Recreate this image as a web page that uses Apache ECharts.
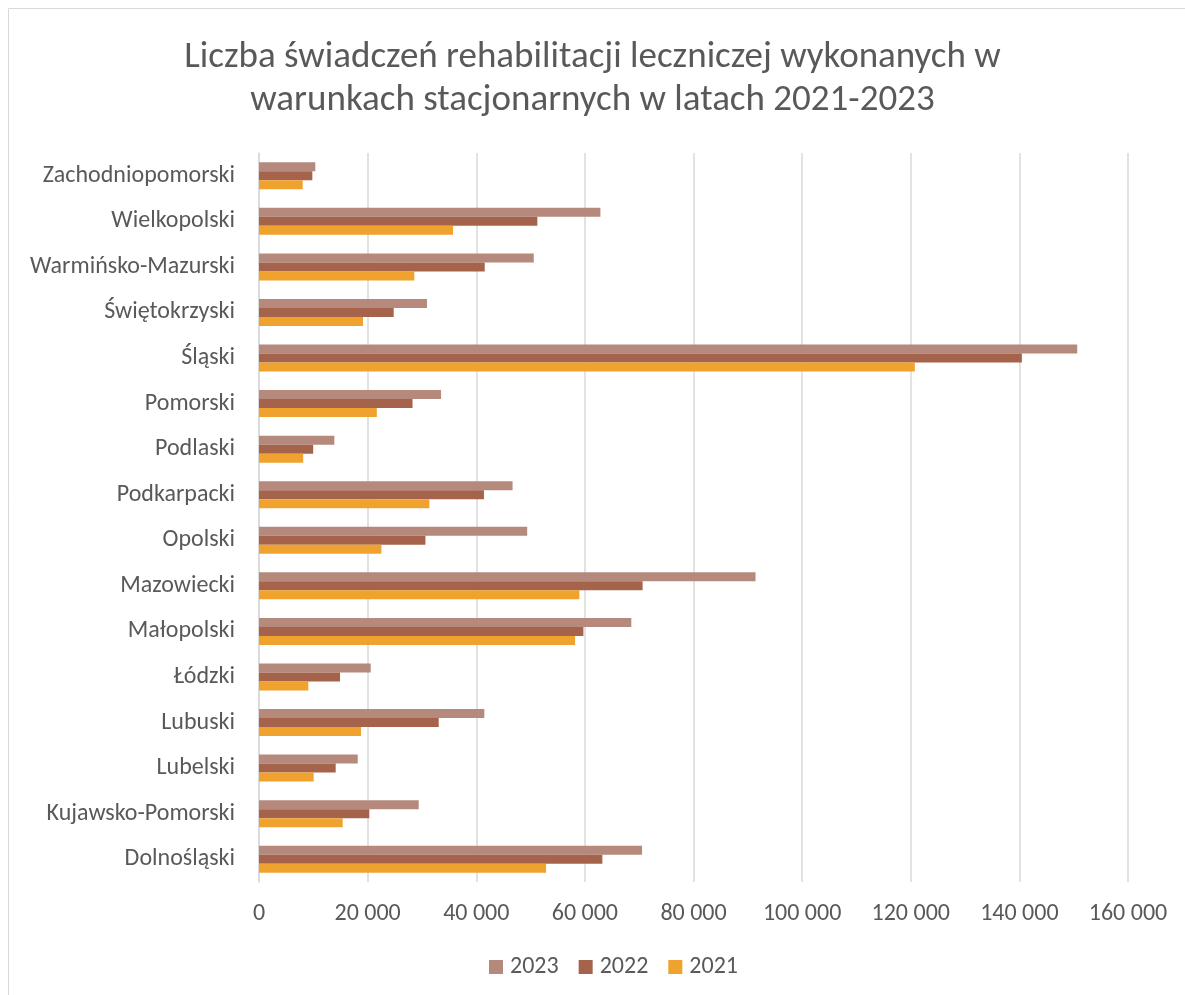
<!DOCTYPE html>
<html>
<head>
<meta charset="utf-8">
<script src="https://cdn.jsdelivr.net/npm/echarts@6/dist/echarts.min.js"></script>
<style>
html,body{margin:0;padding:0;background:#fff;}
#chart{width:1185px;height:995px;}
</style>
</head>
<body>
<div id="chart"></div>
<script>
const categories = ["Dolnośląski","Kujawsko-Pomorski","Lubelski","Lubuski","Łódzki","Małopolski","Mazowiecki","Opolski","Podkarpacki","Podlaski","Pomorski","Śląski","Świętokrzyski","Warmińsko-Mazurski","Wielkopolski","Zachodniopomorski"];
const values2023 = [70530, 29410, 18180, 41490, 20570, 68550, 91420, 49380, 46690, 13870, 33520, 150650, 30940, 50590, 62860, 10370];
const values2022 = [63220, 20310, 14120, 33090, 14920, 59730, 70630, 30640, 41420, 9980, 28270, 140460, 24800, 41560, 51250, 9820];
const values2021 = [52850, 15410, 10070, 18780, 9080, 58200, 58990, 22540, 31360, 8140, 21690, 120750, 19150, 28600, 35730, 8050];
const seriesNames = ["2023","2022","2021"];
const titleText = "Liczba świadczeń rehabilitacji leczniczej wykonanych w\nwarunkach stacjonarnych w latach 2021-2023";

const FONT = 'Carlito, "Liberation Sans", Arial, sans-serif';
const colors = ["#B58A7D","#A5634C","#F0A22E"];
const chart = echarts.init(document.getElementById('chart'), null, {renderer:'canvas'});
function fmt(v){ return String(v).replace(/\B(?=(\d{3})+(?!\d))/g, ' '); }
chart.setOption({
  animation:false,
  color: colors,
  graphic:[{type:'rect', shape:{x:8.5,y:8.5,width:1200,height:1000}, style:{fill:'none', stroke:'#D9D9D9', lineWidth:1}, silent:true}],
  title:{text:titleText, left:'center', top:31, textStyle:{fontFamily:FONT, fontSize:37, fontWeight:'normal', color:'#595959', lineHeight:43}},
  legend:{bottom:11, left:484, itemWidth:14, itemHeight:14, itemGap:20, icon:'rect',
    textStyle:{fontFamily:FONT, fontSize:24, color:'#595959', padding:[0,0,0,2]}, data:seriesNames},
  grid:{left:259, right:57, top:153, bottom:113, containLabel:false},
  xAxis:{type:'value', min:0, max:160000, interval:20000,
    axisLine:{show:false}, axisTick:{show:false},
    splitLine:{show:true, lineStyle:{color:'#D9D9D9', width:1.5}},
    axisLabel:{formatter:fmt, fontFamily:FONT, fontSize:24, color:'#595959', margin:20}},
  yAxis:{type:'category', data:categories,
    axisLine:{show:true, lineStyle:{color:'#D9D9D9', width:1.5}}, axisTick:{show:false},
    axisLabel:{fontFamily:FONT, fontSize:24, color:'#595959', margin:24}},
  series:[
    {name:seriesNames[0], type:'bar', data:values2023, barWidth:9, barGap:'0%'},
    {name:seriesNames[1], type:'bar', data:values2022, barWidth:9, barGap:'0%'},
    {name:seriesNames[2], type:'bar', data:values2021, barWidth:9, barGap:'0%'}
  ]
});
</script>
</body>
</html>
